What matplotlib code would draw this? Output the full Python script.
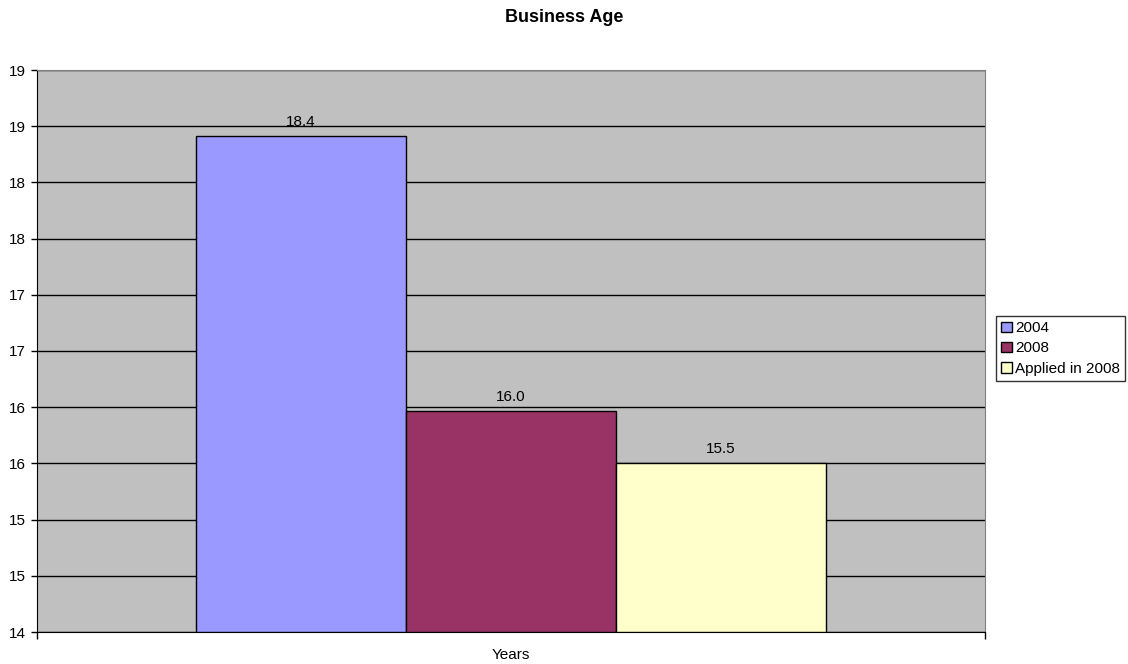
import math
import numpy as np
from matplotlib import pyplot as plt
from matplotlib.ticker import FuncFormatter

series = ["2004", "2008", "Applied in 2008"]
values = [18.41, 15.97, 15.5]
labels = ["18.4", "16.0", "15.5"]
colors = ["#9999FF", "#993366", "#FFFFCC"]
category = "Years"
y_ticks = np.arange(14.0, 19.01, 0.5)

plt.rcParams['font.family'] = ['Liberation Sans', 'DejaVu Sans']
plt.rcParams['font.size'] = 11

fig = plt.figure(figsize=(11.28, 6.64), dpi=100)
ax = fig.add_axes([37 / 1128, 1 - 632 / 664, 948 / 1128, 562 / 664])
ax.set_facecolor("#C0C0C0")

bw = 0.2215
offsets = [-bw, 0, bw]
for name, v, lab, c, off in zip(series, values, labels, colors, offsets):
    b = ax.bar(0.5 + off, v - 14, width=bw, bottom=14, color=c,
               edgecolor="black", linewidth=1, label=name, zorder=3)
    ax.bar_label(b, labels=[lab], padding=5, fontsize=11)

ax.set_xlim(0, 1)
ax.set_ylim(14, 19)
ax.set_yticks(y_ticks)
ax.yaxis.set_major_formatter(FuncFormatter(lambda v, p: str(int(math.floor(v + 0.5)))))
ax.yaxis.grid(True, color="black", linewidth=1, zorder=1)
ax.set_axisbelow(True)
ax.tick_params(axis="y", direction="out", length=4, width=1, pad=4, labelsize=11)
ax.set_xticks([0, 1])
ax.set_xticklabels(["", ""])
ax.tick_params(axis="x", direction="out", length=5, width=1)
ax.set_xlabel(category, fontsize=11, labelpad=3)
for side in ["left", "bottom"]:
    ax.spines[side].set_color("black")
for side in ["top", "right"]:
    ax.spines[side].set_visible(True)
    ax.spines[side].set_color("#808080")

fig.text(0.5, 1 - 18 / 664, "Business Age", ha="center", va="center",
         fontsize=13, fontweight="bold")

leg = fig.legend(loc="upper left", bbox_to_anchor=(996 / 1128, 1 - 316 / 664),
                 frameon=True, fancybox=False, edgecolor="black", fontsize=11,
                 handlelength=0.7, handleheight=0.7, handletextpad=0.2,
                 labelspacing=0.4, borderpad=0.35, borderaxespad=0)
leg.get_frame().set_linewidth(1)

plt.savefig("out.png", dpi=100)
